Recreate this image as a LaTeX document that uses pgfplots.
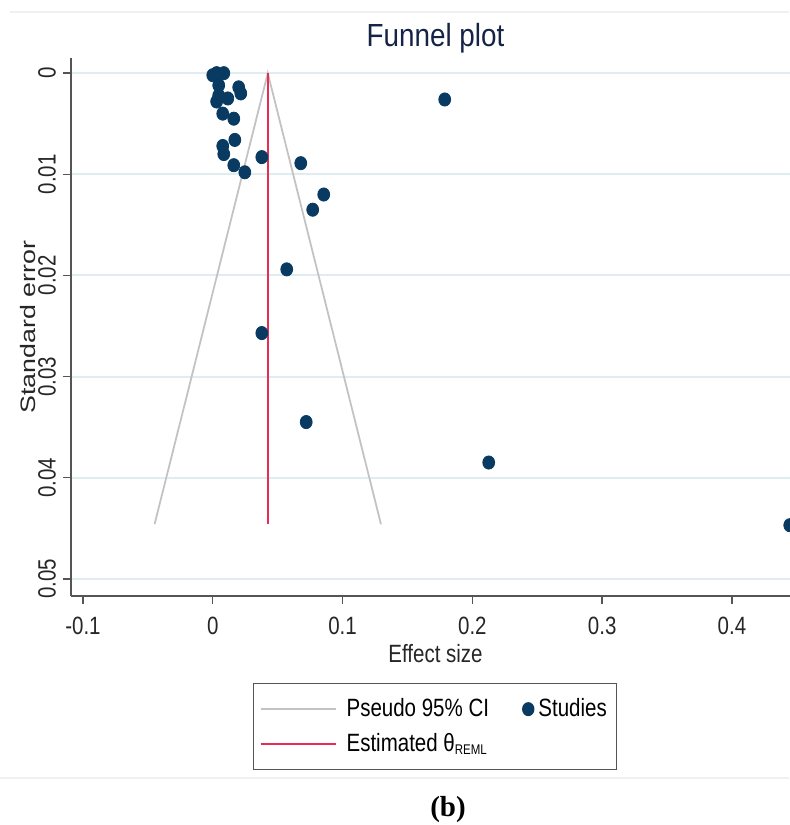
\documentclass[border=0pt]{standalone}
\usepackage{pgfplots}
\pgfplotsset{compat=1.18}
\usepackage{fontspec}
\setmainfont{Liberation Sans}[FakeStretch=0.82]
\newfontfamily\plainsans{Liberation Sans}
\newfontfamily\titlefont{Liberation Sans}[FakeStretch=0.87]
\newfontfamily\serifb{Liberation Serif}
\definecolor{navy}{RGB}{8,58,98}
\definecolor{estred}{RGB}{232,45,85}
\definecolor{cigray}{RGB}{195,195,195}
\definecolor{gridc}{RGB}{224,237,240}
\definecolor{axisgray}{RGB}{85,85,85}
\definecolor{titlec}{RGB}{20,35,70}
\pgfplotsset{
  cileg/.style={legend image code/.code={\draw[cigray, line width=0.9pt] (0pt,0pt) -- (37.5pt,0pt); \path[draw=none] (37.5pt,0pt) -- (41pt,0pt);}},
  redleg/.style={legend image code/.code={\draw[estred, line width=1pt] (0pt,0pt) -- (37.5pt,0pt); \path[draw=none] (37.5pt,0pt) -- (41pt,0pt);}},
  dotleg/.style={legend image code/.code={\fill[navy] (0pt,0pt) ellipse (2.8pt and 3.2pt);}},
}
\begin{document}
\begin{tikzpicture}
\draw[black!6, line width=1pt] (5pt,406.5pt) -- (394.5pt,406.5pt);
\draw[black!6, line width=1pt] (0pt,23.5pt) -- (394.5pt,23.5pt);
\begin{axis}[
  at={(35.5pt,114.5pt)}, anchor=south west,
  scale only axis, width=364.5pt, height=269pt,
  xmin=-0.1092, xmax=0.4524, ymin=-0.0015, ymax=0.0517,
  y dir=reverse,
  axis x line=bottom, axis y line=left,
  axis line style={draw=axisgray, line width=0.7pt, -},
  xtick={-0.1,0,0.1,0.2,0.3,0.4},
  ytick={0,0.01,0.02,0.03,0.04,0.05},
  scaled x ticks=false, scaled y ticks=false,
  /pgf/number format/fixed, /pgf/number format/precision=2,
  /pgf/number format/assume math mode=true,
  tick align=outside, major tick length=4pt,
  tick style={draw=axisgray, line width=0.7pt},
  minor tick num=0,
  ymajorgrids, grid style={draw=gridc, line width=1pt},
  ticklabel style={font=\fontsize{12.5}{14}\selectfont, text=black!85},
  xticklabel style={yshift=-3pt},
  yticklabel={\scalebox{0.82}[1.0]{\plainsans\pgfmathprintnumber{\tick}}},
  yticklabel style={rotate=90, anchor=south},
  xlabel={Effect size}, ylabel={\scalebox{1}[0.78]{\plainsans Standard error}},
  label style={font=\fontsize{12.5}{14}\selectfont, text=black!85},
  xlabel style={yshift=2pt},
  ylabel style={font=\plainsans\fontsize{13.4}{15}\selectfont, at={(axis description cs:-0.059,0.5)}, anchor=center},
  title={Funnel plot},
  title style={font=\titlefont\fontsize{16}{19}\selectfont, text=titlec, at={(0.5,1)}, anchor=base, yshift=0pt},
  clip=false,
  legend columns=2,
  legend cell align=left,
  legend style={at={(0.2497,-0.1617)}, anchor=north west,
    draw=axisgray, line width=0.6pt, inner xsep=3pt, inner ysep=5.5pt,
    font=\fontsize{12.5}{14}\selectfont,
    /tikz/every even column/.append style={column sep=14.5pt},
    row sep=3pt},
]
\addplot[cigray, line width=0.9pt, forget plot] coordinates {(-0.0448,0.0446) (0.0424,0) (0.1296,0.0446)};
\addplot[estred, line width=1.1pt, forget plot] coordinates {(0.0424,0) (0.0424,0.0446)};
\addplot[only marks, mark=*, mark size=3.3pt, mark options={xscale=0.9, fill=navy, draw=navy}, forget plot] coordinates {
(0.000,0.0002) (0.003,0.0000) (0.0085,0.0000) (0.0046,0.0012) (0.020,0.0014)
(0.0216,0.0020) (0.0046,0.0022) (0.003,0.0028) (0.0116,0.0025) (0.0077,0.0040)
(0.0162,0.0045) (0.0170,0.0066) (0.0077,0.0072) (0.0085,0.0080) (0.0162,0.0091)
(0.0247,0.0098) (0.0378,0.0083) (0.0678,0.0089) (0.0855,0.0120) (0.0770,0.0135)
(0.0570,0.0194) (0.0378,0.0257) (0.0720,0.0345) (0.2126,0.0385) (0.4445,0.0447)
(0.1787,0.0026)};
\addlegendimage{cileg}
\addlegendentry{Pseudo 95\% CI}
\addlegendimage{dotleg}
\addlegendentry{Studies}
\addlegendimage{redleg}
\addlegendentry{Estimated θ\raisebox{-1.5pt}{\fontsize{7}{8}\selectfont REML}}
\end{axis}
\node[font=\serifb\bfseries\fontsize{14.5}{16}\selectfont] at (224pt,7.5pt) {(b)};
\pgfresetboundingbox
\path[use as bounding box] (0pt,0pt) rectangle (394.5pt,412.5pt);
\end{tikzpicture}
\end{document}
